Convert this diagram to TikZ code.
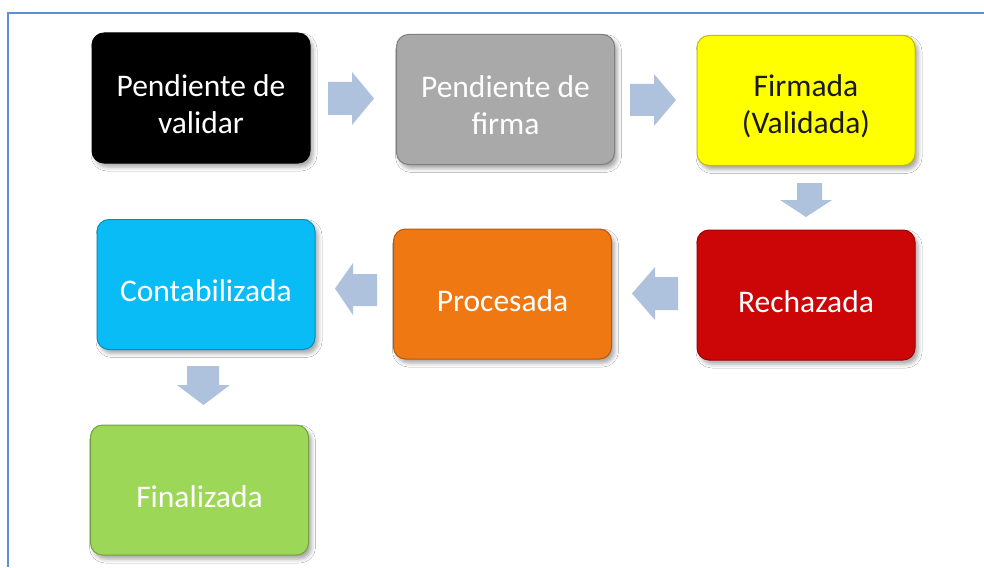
\documentclass[tikz,border=0pt]{standalone}
\usepackage{fontspec}
\setmainfont{Carlito}
\usetikzlibrary{shadows.blur}
\definecolor{frameblue}{HTML}{5B8FD6}
\definecolor{arrowblue}{HTML}{AFC2DD}
\definecolor{cgray}{HTML}{A9A9A9}
\definecolor{cyellow}{HTML}{FFFF00}
\definecolor{cred}{HTML}{CC0606}
\definecolor{corange}{HTML}{F07812}
\definecolor{ccyan}{HTML}{0ABCF6}
\definecolor{cgreen}{HTML}{9DD758}
\definecolor{darktext}{HTML}{1A1A1A}
\tikzset{
  x=1pt, y=-1pt,
  statebox/.style={rounded corners=12pt, minimum width=218pt, minimum height=130pt,
    inner sep=0pt, fill=#1, draw=#1!75!black, line width=1pt,
    blur shadow={shadow xshift=3pt, shadow yshift=-4pt, shadow blur radius=4pt, shadow opacity=35}},
  statetext/.style={align=center, font=\fontsize{31.5}{37}\selectfont, text=#1, inner sep=0pt},
  blockarrow/.style={fill=arrowblue, draw=none}
}
\begin{document}
\begin{tikzpicture}
\useasboundingbox (0,0) rectangle (984,567);
\fill[white] (0,0) rectangle (984,567);
\draw[frameblue, line width=1.5pt] (984,13) -- (8,13) -- (8,567);

% boxes
\node[statebox=black]   (b1) at (201,98)    {};
\node[statebox=cgray]   (b2) at (505.5,99.5) {};
\node[statebox=cyellow] (b3) at (806,100.5) {};
\node[statebox=cred]    (b4) at (806,295)   {};
\node[statebox=corange] (b5) at (502.5,294) {};
\node[statebox=ccyan]   (b6) at (206,284.5) {};
\node[statebox=cgreen]  (b7) at (199.5,490) {};

% texts
\node[statetext=white]    (t1) at ([yshift=-6pt]b1.center) {Pendiente de\\validar};
\node[statetext=white]    (t2) at ([yshift=-6pt]b2.center) {Pendiente de\\firma};
\node[statetext=darktext] (t3) at ([yshift=-6pt]b3.center) {Firmada\\(Validada)};
\node[statetext=white]    (t4) at ([yshift=-7pt]b4.center) {Rechazada};
\node[statetext=white]    (t5) at ([yshift=-7pt]b5.center) {Procesada};
\node[statetext=white]    (t6) at ([yshift=-6pt]b6.center) {Contabilizada};
\node[statetext=white]    (t7) at ([yshift=-7pt]b7.center) {Finalizada};

% block arrows
\fill[blockarrow] (328,82) -- (352,82) -- (352,72) -- (374,98.5) -- (352,125) -- (352,115) -- (328,115) -- cycle;
\fill[blockarrow] (630,84) -- (654,84) -- (654,74) -- (676,100) -- (654,126) -- (654,116) -- (630,116) -- cycle;
\fill[blockarrow] (797,183) -- (822,183) -- (822,200) -- (832,200) -- (806,217) -- (780,200) -- (797,200) -- cycle;
\fill[blockarrow] (678,277) -- (655,277) -- (655,267) -- (632,293.5) -- (655,320) -- (655,310) -- (678,310) -- cycle;
\fill[blockarrow] (377,274) -- (353,274) -- (353,263) -- (335,288.5) -- (353,315) -- (353,306) -- (377,306) -- cycle;
\fill[blockarrow] (187,366) -- (219,366) -- (219,385) -- (230,385) -- (203.5,405) -- (177,385) -- (187,385) -- cycle;
\end{tikzpicture}
\end{document}
